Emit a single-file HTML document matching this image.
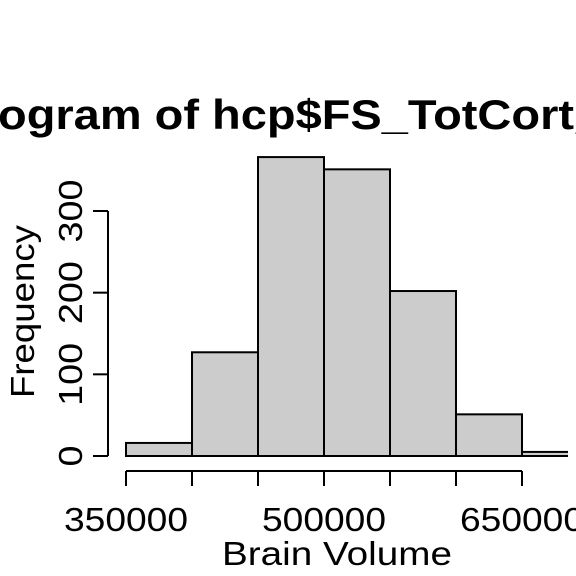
<!DOCTYPE html>
<html><head><meta charset="utf-8"><style>
html,body{margin:0;padding:0;background:#fff;}
svg{display:block;font-family:"Liberation Sans",Arial,sans-serif;}
</style></head><body>
<svg id="chart" width="576" height="576" viewBox="0 0 576 576">
<defs><clipPath id="plotclip"><rect x="0" y="0" width="568" height="576"/></clipPath></defs>
<g font-size="42" font-weight="bold">
<text x="-2" y="129" text-anchor="end" textLength="110" lengthAdjust="spacingAndGlyphs">Hist</text>
<text x="-2" y="129" textLength="576" lengthAdjust="spacingAndGlyphs">ogram of hcp$FS_TotCort</text>
<text x="576" y="129">_Vol</text>
</g>
<g id="bars" clip-path="url(#plotclip)"></g>
<g id="xaxis"></g>
<g id="yaxis"></g>
<text x="222" y="565" font-size="33" textLength="230" lengthAdjust="spacingAndGlyphs">Brain Volume</text>
<text transform="translate(34,398) rotate(-90)" font-size="33" textLength="173" lengthAdjust="spacingAndGlyphs">Frequency</text>
</svg>
<script>
const binEdges = [350000,400000,450000,500000,550000,600000,650000,700000];
const counts = [16,127,366,351,202,51,5];
const xTickValues = [350000,400000,450000,500000,550000,600000,650000];
const xTickLabels = ["350000","","","500000","","","650000"];
const yTickValues = [0,100,200,300];
const ns="http://www.w3.org/2000/svg";
function sx(v){return 126+(v-350000)*66/50000;}
function sy(v){return 456-v*0.8167;}
function mk(tag,attrs,parent){const e=document.createElementNS(ns,tag);for(const k in attrs)e.setAttribute(k,attrs[k]);parent.appendChild(e);return e;}
const bars=document.getElementById('bars');
counts.forEach((c,i)=>{
  const r=mk('rect',{x:sx(binEdges[i]),y:sy(c),width:sx(binEdges[i+1])-sx(binEdges[i]),height:sy(0)-sy(c),fill:'#cccccc',stroke:'#000','stroke-width':2},bars);
  
  
});
const xa=document.getElementById('xaxis');
mk('line',{x1:sx(xTickValues[0]),x2:sx(xTickValues[xTickValues.length-1]),y1:471,y2:471,stroke:'#000','stroke-width':2},xa);
xTickValues.forEach((v,i)=>{
  mk('line',{x1:sx(v),x2:sx(v),y1:471,y2:486,stroke:'#000','stroke-width':2},xa);
  if(xTickLabels[i]){
    const t=mk('text',{x:sx(v)-62,y:531,'font-size':33,textLength:124,lengthAdjust:'spacingAndGlyphs'},xa);
    t.textContent=xTickLabels[i];
    
    
  }
});
const ya=document.getElementById('yaxis');
mk('line',{x1:108,x2:108,y1:sy(yTickValues[0]),y2:sy(yTickValues[yTickValues.length-1]),stroke:'#000','stroke-width':2},ya);
yTickValues.forEach(v=>{
  mk('line',{x1:93,x2:108,y1:sy(v),y2:sy(v),stroke:'#000','stroke-width':2},ya);
  const s=String(v);
  const L=s.length*21;
  const t=mk('text',{transform:'translate(82,'+(sy(v)+L/2)+') rotate(-90)','font-size':33,textLength:L,lengthAdjust:'spacingAndGlyphs'},ya);
  t.textContent=s;
  
  
});
</script>
</body></html>
